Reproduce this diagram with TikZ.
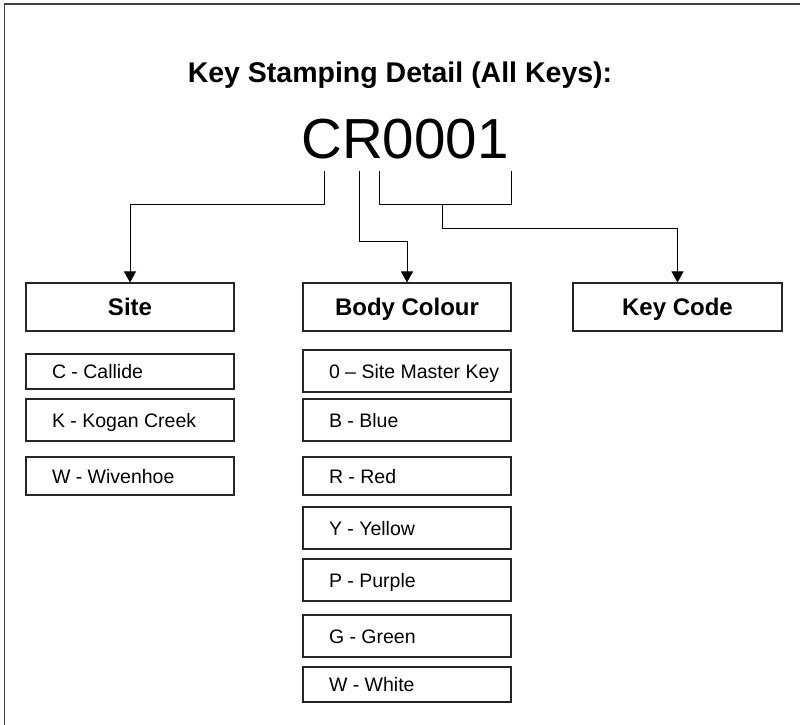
\documentclass[tikz,border=0pt]{standalone}
\usepackage{fontspec}
\setmainfont{Liberation Sans}
\usetikzlibrary{arrows.meta}
\tikzset{
  frame/.style={line width=1.2pt, draw=black!75},
  hdr/.style={draw=black!85, line width=1.1pt, minimum width=208pt, minimum height=48pt, inner sep=0pt, text height=17pt, text depth=0pt, font=\fontsize{24}{28}\selectfont\bfseries},
  itembox/.style={draw=black!85, line width=1.1pt, minimum width=208pt, inner sep=0pt, text height=14pt, text depth=0pt, font=\fontsize{19.5}{23}\selectfont},
  conn/.style={line width=1pt, draw=black},
  arr/.style={conn, -{Triangle[width=12pt,length=11pt]}}
}
\newcommand{\itm}[1]{\makebox[156pt][l]{#1}}
\begin{document}
\begin{tikzpicture}[x=1pt,y=-1pt]
\useasboundingbox (0,0) rectangle (800,724);
\clip (0,0) rectangle (800,724);
\fill[white] (0,0) rectangle (800,724);
\draw[frame] (4.5,730) -- (4.5,4) -- (806,4);

\node[anchor=base, font=\fontsize{28.5}{32}\selectfont\bfseries] (title) at (400,82) {Key Stamping Detail (All Keys):};
\node[anchor=base, font=\fontsize{56.5}{62}\selectfont, inner sep=0pt] (code) at (405,158) {CR0001};

\node[hdr] (site) at (130,307) {Site};
\node[hdr] (body) at (407,307) {Body Colour};
\node[hdr, minimum width=209pt] (key) at (677.5,307) {Key Code};

\node[itembox, minimum height=35pt] (s1) at (130,371.5) {\itm{C - Callide}};
\node[itembox, minimum height=42pt] (s2) at (130,420) {\itm{K - Kogan Creek}};
\node[itembox, minimum height=38pt] (s3) at (130,476) {\itm{W - Wivenhoe}};

\node[itembox, minimum height=42pt] (b0) at (407,371) {\itm{0 – Site Master Key}};
\node[itembox, minimum height=42pt] (b1) at (407,420) {\itm{B - Blue}};
\node[itembox, minimum height=38pt] (b2) at (407,476) {\itm{R - Red}};
\node[itembox, minimum height=42pt] (b3) at (407,528) {\itm{Y - Yellow}};
\node[itembox, minimum height=42pt] (b4) at (407,580) {\itm{P - Purple}};
\node[itembox, minimum height=42pt] (b5) at (407,636) {\itm{G - Green}};
\node[itembox, minimum height=35pt] (b6) at (407,684.5) {\itm{W - White}};

\coordinate (cC) at (324,171);
\coordinate (cR) at (359,171);
\coordinate (cL) at (379,171);
\coordinate (cN) at (511,171);
\coordinate (cM) at (442,204);

\draw[arr] (cC) -- (324,204) -| (site.north);
\draw[arr] (cR) -- (359,241) -| (body.north);
\draw[conn] (cL) -- (379,204) -- (511,204) -- (cN);
\draw[arr] (cM) -- (442,228) -| (key.north);
\end{tikzpicture}
\end{document}
